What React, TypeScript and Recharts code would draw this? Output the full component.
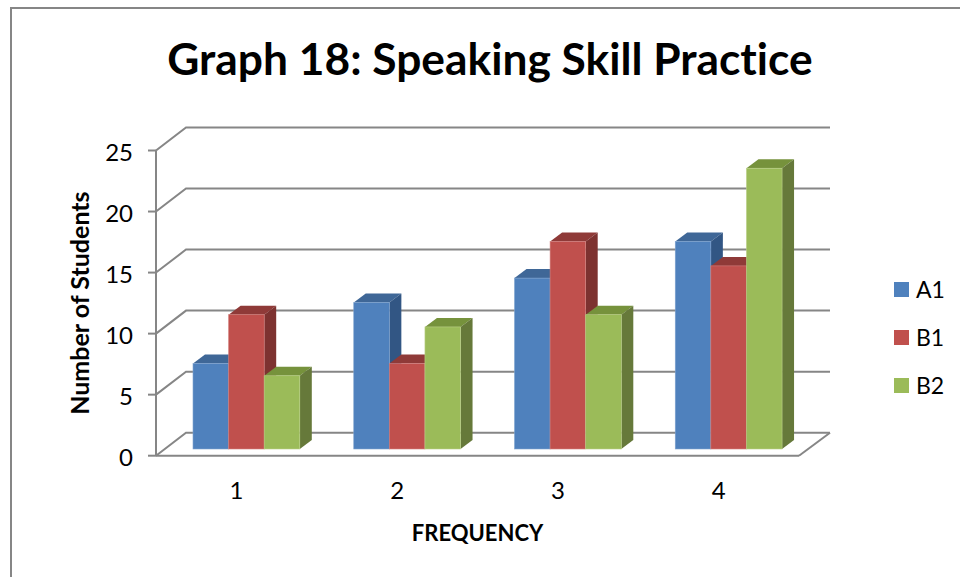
import React from "react";
import { BarChart, Bar, XAxis, YAxis, CartesianGrid, Legend } from "recharts";

const categories = ["1", "2", "3", "4"];
const a1Values = [7, 12, 14, 17];
const b1Values = [11, 7, 17, 15];
const b2Values = [6, 10, 11, 23];
const yTicks = [0, 5, 10, 15, 20, 25];

const chartData = categories.map((frequency, i) => ({
    frequency,
    A1: a1Values[i],
    B1: b1Values[i],
    B2: b2Values[i],
}));

const FONT = "Lato, Carlito, sans-serif";
const LINE = "#868686";

// the fake 3D: bars sit a bit inside the floor, walls go back up to the right
const BAR_SHIFT_X = 10;
const BAR_SHIFT_Y = -6.7;
const BAR_DEPTH_X = 12;
const BAR_DEPTH_Y = 9;
const WALL_DX = 30;
const WALL_DY = -23;

const SHADES: Record<string, { top: string; side: string; edge: string }> = {
    "#4F81BD": { top: "#3F6797", side: "#325684", edge: "#7FA3CF" },
    "#C0504D": { top: "#8F3A38", side: "#7D3230", edge: "#D2807E" },
    "#9BBB59": { top: "#76923C", side: "#66793A", edge: "#BBD088" },
};

const Bar3D = (props: any) => {
    const { x, y, width, height, fill } = props;
    const shade = SHADES[fill];
    const l = x + BAR_SHIFT_X;
    const r = l + width;
    const t = y + BAR_SHIFT_Y;
    const b = t + height;
    const dx = BAR_DEPTH_X;
    const dy = BAR_DEPTH_Y;
    return (
        <g>
            <polygon points={`${l},${t} ${r},${t} ${r + dx},${t - dy} ${l + dx},${t - dy}`} fill={shade.top} />
            <polygon points={`${r},${t} ${r + dx},${t - dy} ${r + dx},${b - dy} ${r},${b}`} fill={shade.side} />
            <rect x={l} y={t} width={width} height={height} fill={fill} stroke={shade.edge} strokeWidth={0.6} />
        </g>
    );
};

// each grid line also draws its slanted bit on the left wall
const WallLine = (props: any) => {
    const { x1, x2, y1 } = props;
    const isFloor = y1 > 450;
    const backY = y1 + WALL_DY;
    return (
        <g fill="none" stroke={LINE} strokeWidth={2}>
            <polyline points={`${x1},${y1} ${x1 + WALL_DX},${backY} ${x2 + WALL_DX + 1},${backY}`} />
            {isFloor && <line x1={x2} y1={y1} x2={x2 + WALL_DX + 1} y2={backY} />}
        </g>
    );
};

const LegendBox = ({ payload }: any) => (
    <div style={{ fontFamily: FONT, fontSize: 23, color: "#000" }}>
        {(payload || []).map((item: any) => (
            <div key={item.value} style={{ display: "flex", alignItems: "center", height: 48 }}>
                <span style={{ width: 15, height: 15, background: item.color, marginRight: 7 }} />
                <span>{item.value}</span>
            </div>
        ))}
    </div>
);

const App: React.FC = () => {
    return (
        <div style={{ position: "absolute", left: 0, top: 0, width: 960, height: 577, background: "#fff", overflow: "hidden" }}>
            <div
                style={{
                    position: "absolute",
                    left: 10,
                    top: 7,
                    width: 960,
                    height: 600,
                    borderLeft: `2px solid ${LINE}`,
                    borderTop: `2px solid ${LINE}`,
                }}
            />
            <BarChart
                width={960}
                height={577}
                data={chartData}
                margin={{ top: 150.5, right: 161, bottom: 0, left: 0 }}
                barGap={0}
                barSize={35.6}
                style={{ position: "absolute", left: 0, top: 0 }}
            >
                <text
                    x={490}
                    y={75}
                    textAnchor="middle"
                    fontFamily={FONT}
                    fontWeight={700}
                    fontSize={44.3}
                    fill="#000"
                    style={{ fontVariantLigatures: "none" }}
                >
                    Graph 18: Speaking Skill Practice
                </text>
                <CartesianGrid vertical={false} horizontal={(p: any) => <WallLine key={p.key} {...p} />} />
                <XAxis
                    dataKey="frequency"
                    height={121.3}
                    tickLine={false}
                    axisLine={{ stroke: LINE, strokeWidth: 2 }}
                    tickMargin={20}
                    tick={{ fontFamily: FONT, fontSize: 24, fill: "#000" }}
                    label={{
                        value: "FREQUENCY",
                        position: "insideTop",
                        offset: 70,
                        fontFamily: FONT,
                        fontWeight: 700,
                        fontSize: 22,
                        fill: "#000",
                    }}
                />
                <YAxis
                    width={156}
                    domain={[0, 25]}
                    ticks={yTicks}
                    tickSize={8}
                    tickMargin={15}
                    tickLine={{ stroke: LINE, strokeWidth: 2 }}
                    axisLine={{ stroke: LINE, strokeWidth: 2 }}
                    tick={{ fontFamily: FONT, fontSize: 24, fill: "#000", dy: 1.5 }}
                    label={{
                        value: "Number of Students",
                        angle: -90,
                        position: "insideLeft",
                        offset: 80,
                        fontFamily: FONT,
                        fontWeight: 700,
                        fontSize: 25,
                        fill: "#000",
                        style: { textAnchor: "middle" },
                    }}
                />
                <Bar dataKey="A1" fill="#4F81BD" shape={Bar3D} isAnimationActive={false} />
                <Bar dataKey="B1" fill="#C0504D" shape={Bar3D} isAnimationActive={false} />
                <Bar dataKey="B2" fill="#9BBB59" shape={Bar3D} isAnimationActive={false} />
                <Legend
                    content={LegendBox}
                    layout="vertical"
                    align="center"
                    verticalAlign="middle"
                    wrapperStyle={{ position: "absolute", left: 894, top: 265, width: 60 }}
                />
            </BarChart>
        </div>
    );
};

export default App;
